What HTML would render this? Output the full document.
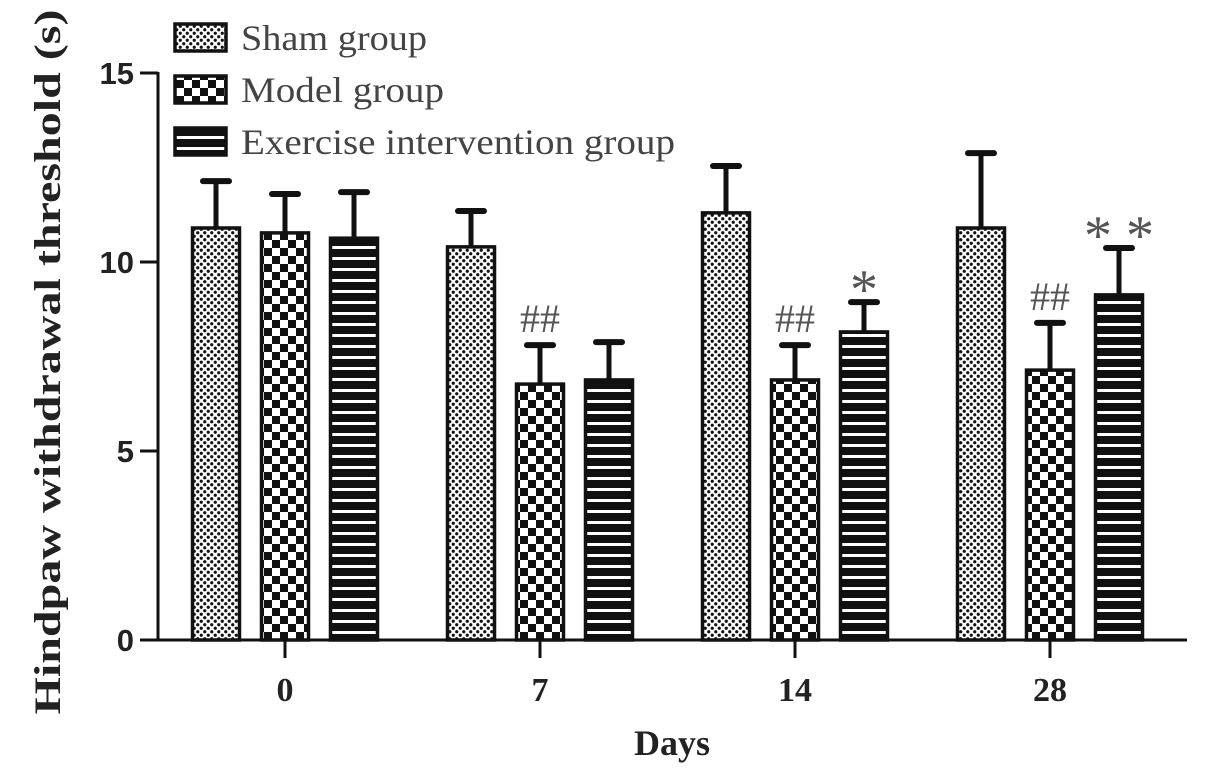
<!DOCTYPE html>
<html><head><meta charset="utf-8"><style>
html,body{margin:0;padding:0;background:#fff;}
svg{display:block;}
</style></head><body>
<svg id="chart" width="1205" height="776" viewBox="0 0 1205 776" xmlns="http://www.w3.org/2000/svg">
<defs>
<pattern id="pDots" width="7" height="7" patternUnits="userSpaceOnUse">
<rect width="7" height="7" fill="#fff"/>
<circle cx="1.75" cy="1.75" r="1.6" fill="#111"/>
<circle cx="5.25" cy="5.25" r="1.6" fill="#111"/>
</pattern>
<pattern id="pCheck" width="16" height="16" patternUnits="userSpaceOnUse">
<rect width="16" height="16" fill="#fff"/>
<rect x="0" y="0" width="8" height="8" fill="#111"/>
<rect x="8" y="8" width="8" height="8" fill="#111"/>
<rect x="8" y="0" width="8" height="8" fill="#fff"/>
</pattern>
<pattern id="pStripe" width="11" height="11" patternUnits="userSpaceOnUse">
<rect width="11" height="11" fill="#111"/>
<rect x="0" y="4" width="11" height="3" fill="#fff"/>
</pattern>
</defs>
<g id="axes"></g>
<g id="bars"></g>
<g id="legend"></g>
</svg>
<script>
const categories = ["0","7","14","28"];
const shamValues = [10.9, 10.4, 11.3, 10.9];
const shamErrors = [1.24, 0.95, 1.24, 1.98];
const modelValues = [10.77, 6.77, 6.88, 7.14];
const modelErrors = [1.03, 1.03, 0.92, 1.25];
const exerciseValues = [10.63, 6.88, 8.15, 9.13];
const exerciseErrors = [1.22, 1.0, 0.79, 1.24];
const yTicks = [0, 5, 10, 15];
const seriesNames = ["Sham group","Model group","Exercise intervention group"];
const annotations = [
  {cat:1, series:1, text:"##"},
  {cat:2, series:1, text:"##"},
  {cat:2, series:2, text:"*"},
  {cat:3, series:1, text:"##"},
  {cat:3, series:2, text:"* *"}
];

const NS = "http://www.w3.org/2000/svg";
const y0 = 640, yTop = 73, yMax = 15;
const yScale = v => y0 - v * (y0 - yTop) / yMax;
const groupCenter = i => 285 + i * 255;
const offsets = [-69, 0, 69];
const barW = 47;
const fills = ["url(#pDots)","url(#pCheck)","url(#pStripe)"];
const vals = [shamValues, modelValues, exerciseValues];
const errs = [shamErrors, modelErrors, exerciseErrors];
const legendLens = [186, 203, 434];

function mk(tag, attrs, parent){
  const e = document.createElementNS(NS, tag);
  for (const k in attrs) e.setAttribute(k, attrs[k]);
  parent.appendChild(e);
  return e;
}
const axes = document.getElementById('axes');
const bars = document.getElementById('bars');
const legend = document.getElementById('legend');

const yAxis = mk('line',{x1:158,y1:yTop-1,x2:158,y2:y0+1.5,stroke:'#111','stroke-width':3},axes);


const xAxis = mk('line',{x1:141,y1:y0,x2:1187,y2:y0,stroke:'#111','stroke-width':3},axes);



yTicks.forEach(t=>{
  const y = yScale(t);
  const tk = mk('line',{x1:140,y1:y,x2:158,y2:y,stroke:'#111','stroke-width':3},axes);
  
  
  const lb = mk('text',{x:134,y:y+11,'text-anchor':'end','font-family':'Liberation Sans, sans-serif','font-weight':'bold','font-size':31,fill:'#222'},axes);
  lb.textContent = t;
  
  
});

categories.forEach((c,i)=>{
  const x = groupCenter(i);
  const tk = mk('line',{x1:x,y1:y0,x2:x,y2:y0+18,stroke:'#111','stroke-width':3},axes);
  
  
  const lb = mk('text',{x:x,y:701,'text-anchor':'middle','font-family':'Liberation Serif, serif','font-weight':'bold','font-size':34,fill:'#222'},axes);
  lb.textContent = c;
  
  
});

const xt = mk('text',{x:672,y:755,'text-anchor':'middle','font-family':'Liberation Serif, serif','font-weight':'bold','font-size':36,fill:'#222'},axes);
xt.textContent = 'Days';


const yt = mk('text',{x:0,y:0,'text-anchor':'middle','font-family':'Liberation Serif, serif','font-weight':'bold','font-size':37,fill:'#222',transform:'translate(60,362) rotate(-90)',textLength:705,lengthAdjust:'spacingAndGlyphs'},axes);
yt.textContent = 'Hindpaw withdrawal threshold (s)';



categories.forEach((c,i)=>{
  for (let s=0;s<3;s++){
    const cx = groupCenter(i) + offsets[s];
    const top = yScale(vals[s][i]);
    const et = yScale(vals[s][i] + errs[s][i]);
    const eb = mk('line',{x1:cx,y1:et,x2:cx,y2:top,stroke:'#111','stroke-width':5},bars);
    
    
    const cap = mk('line',{x1:cx-13,y1:et,x2:cx+13,y2:et,stroke:'#111','stroke-width':6,'stroke-linecap':'round'},bars);
    
    
    const r = mk('rect',{x:cx-barW/2,y:top,width:barW,height:y0-top,fill:fills[s],stroke:'#111','stroke-width':3.5},bars);
    
    
  }
});

annotations.forEach(a=>{
  const cx = groupCenter(a.cat) + offsets[a.series];
  const et = yScale(vals[a.series][a.cat] + errs[a.series][a.cat]);
  const isStar = a.text.indexOf('*')>=0;
  const t = mk('text',{x:cx,y:isStar? et+6 : et-13,'text-anchor':'middle','font-family':'Liberation Serif, serif','font-size':isStar?56:40,fill:'#555'},bars);
  t.textContent = a.text;
  
  
});

seriesNames.forEach((n,s)=>{
  const y = 24 + s*52;
  const sw = mk('rect',{x:175,y:y,width:51,height:27,fill:fills[s],stroke:'#111','stroke-width':3.5},legend);
  
  
  const t = mk('text',{x:241,y:y+26,'font-family':'Liberation Serif, serif','font-size':36,fill:'#444',textLength:legendLens[s],lengthAdjust:'spacingAndGlyphs'},legend);
  t.textContent = n;
  
  
});
</script>
</body></html>
